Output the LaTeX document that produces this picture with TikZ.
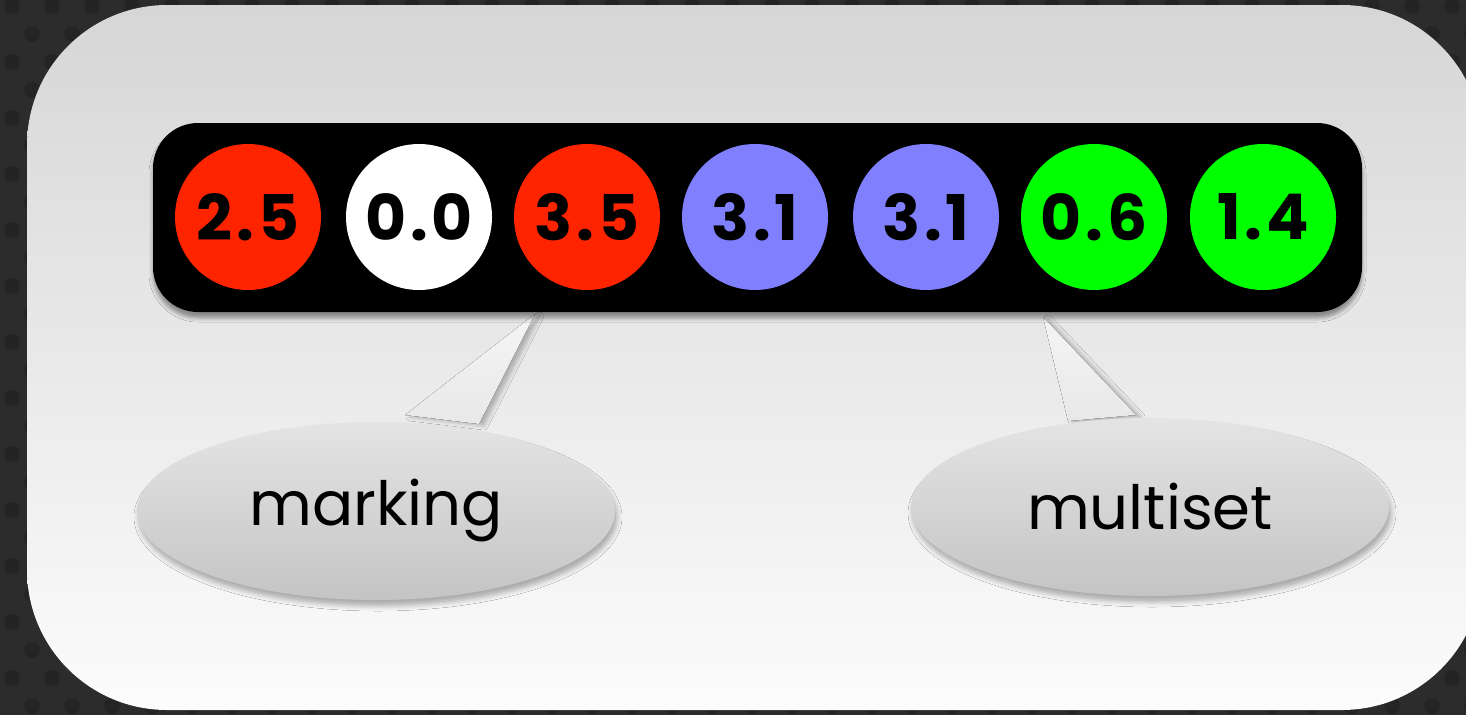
\documentclass[tikz,border=0pt]{standalone}
\usepackage{fontspec}
\setmainfont{Poppins}
\newfontfamily\numfont[LetterSpace=6]{Poppins}
\usetikzlibrary{shapes.geometric,shadows.blur}
\definecolor{bgdark}{HTML}{2C2C2C}
\definecolor{bgdot}{HTML}{242424}
\definecolor{panTop}{HTML}{D6D6D6}
\definecolor{panBot}{HTML}{FCFCFC}
\definecolor{tokRed}{HTML}{FF2400}
\definecolor{tokBlue}{HTML}{8080FF}
\definecolor{tokGreen}{HTML}{00FF00}
\definecolor{balTop}{HTML}{E4E4E4}
\definecolor{balBot}{HTML}{C4C4C4}
\tikzset{
  token/.style={circle, minimum size=146pt, inner sep=0pt, text=black,
    font=\numfont\fontsize{63}{63}\selectfont\bfseries},
  bar/.style={rectangle, fill=black, rounded corners=45pt, minimum width=1209pt,
    minimum height=189pt, inner sep=0pt,
    blur shadow={shadow xshift=0pt, shadow yshift=-6pt, shadow blur radius=4pt, shadow opacity=40}},
  balloon/.style={ellipse, minimum width=478pt, minimum height=178pt, inner sep=0pt,
    top color=balTop, bottom color=balBot, font=\fontsize{61}{61}\selectfont,
    blur shadow={shadow xshift=2pt, shadow yshift=-6pt, shadow blur radius=5pt, shadow opacity=30}},
  tail/.style={top color=white!96!black, bottom color=white!91!black,
    blur shadow={shadow xshift=5pt, shadow yshift=-2pt, shadow blur radius=4pt, shadow opacity=25}},
}
\begin{document}
\begin{tikzpicture}[x=1pt,y=-1pt]
\useasboundingbox (0,0) rectangle (1466,715);
% dark textured background
\fill[bgdark] (0,0) rectangle (1466,715);
\foreach \r in {0,...,26}{
  \foreach \c in {0,...,37}{
    \pgfmathsetmacro{\xx}{\c*40+mod(\r,2)*20+12}
    \pgfmathsetmacro{\yy}{\r*28+6}
    \fill[bgdot] (\xx,\yy) circle (8pt);
  }
}
% panel
\fill[top color=panTop, bottom color=panBot, rounded corners=140pt]
  (27,5) rectangle (1482,710);
% tails of the callouts
\coordinate (tipA) at (535,314);
\coordinate (tipB) at (1043,317);
\coordinate (baseA1) at (405,415);
\coordinate (baseA2) at (479,424);
\coordinate (baseB1) at (1068,421);
\coordinate (baseB2) at (1136,415);
\fill[tail] (tipA) -- (baseA2) -- (baseA1) -- cycle;
\fill[tail] (tipB) -- (baseB2) -- (baseB1) -- cycle;
% bar of tokens
\node[bar] (bar) at (757.5,217.5) {};
\node[token, fill=tokRed]   (t1) at (248,217) {2.5};
\node[token, fill=white]    (t2) at (419,217) {0.0};
\node[token, fill=tokRed]   (t3) at (587,217) {3.5};
\node[token, fill=tokBlue]  (t4) at (755,217) {3.1};
\node[token, fill=tokBlue]  (t5) at (926,217) {3.1};
\node[token, fill=tokGreen] (t6) at (1094,217) {0.6};
\node[token, fill=tokGreen] (t7) at (1263,217) {1.4};
% callout balloons
\node[balloon] (marking) at (376,511) {marking};
\node[balloon] (multiset) at (1150,507) {multiset};
\end{tikzpicture}
\end{document}
